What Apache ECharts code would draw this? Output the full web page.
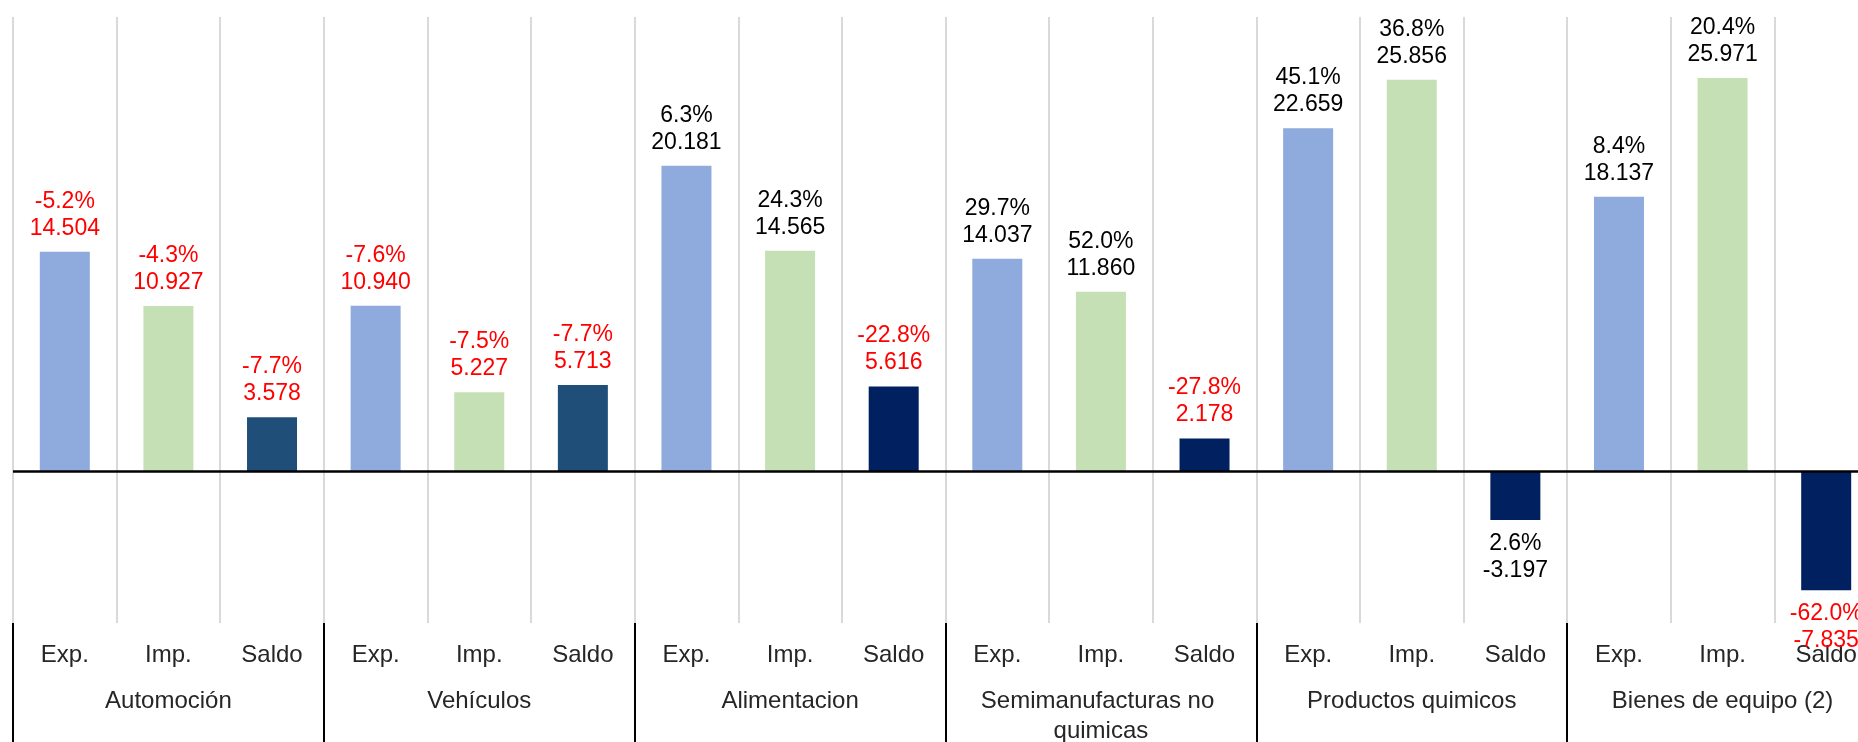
<!DOCTYPE html>
<html>
<head>
<meta charset="utf-8">
<script src="https://cdn.jsdelivr.net/npm/echarts@6/dist/echarts.min.js"></script>
<style>
  html, body { margin: 0; padding: 0; background: #fff; }
  #chart { width: 1858px; height: 742px; }
</style>
</head>
<body>
<div id="chart"></div>
<script>
// categories
var groups = ['Automoción', 'Vehículos', 'Alimentacion', 'Semimanufacturas no quimicas', 'Productos quimicos', 'Bienes de equipo (2)'];
var kinds = ['Exp.', 'Imp.', 'Saldo'];

// values (thousand million)
var expVals = [14.504, 10.940, 20.181, 14.037, 22.659, 18.137];
var impVals = [10.927, 5.227, 14.565, 11.860, 25.856, 25.971];
var saldoVals = [3.578, 5.713, 5.616, 2.178, -3.197, -7.835];

// year-on-year change (%)
var expPct = [-5.2, -7.6, 6.3, 29.7, 45.1, 8.4];
var impPct = [-4.3, -7.5, 24.3, 52.0, 36.8, 20.4];
var saldoPct = [-7.7, -7.7, -22.8, -27.8, 2.6, -62.0];

var expColor = '#8faadc';
var impColor = '#c5e0b4';
var saldoColors = ['#1f4e79', '#1f4e79', '#002060', '#002060', '#002060', '#002060'];

// flatten groups into one category axis
var cats = [], vals = [], pcts = [], colors = [];
for (var g = 0; g < groups.length; g++) {
    cats.push(kinds[0], kinds[1], kinds[2]);
    vals.push(expVals[g], impVals[g], saldoVals[g]);
    pcts.push(expPct[g], impPct[g], saldoPct[g]);
    colors.push(expColor, impColor, saldoColors[g]);
}

var barData = vals.map(function (v, i) {
    return {
        value: v,
        itemStyle: { color: colors[i] },
        label: {
            position: v < 0 ? 'bottom' : 'top',
            color: pcts[i] < 0 ? '#ff0000' : '#000000'
        }
    };
});

var dom = document.getElementById('chart');
var myChart = echarts.init(dom, null, { renderer: 'canvas' });

var option = {
    animation: false,
    backgroundColor: '#ffffff',
    textStyle: { fontFamily: 'Liberation Sans' },
    grid: {
        left: 13,
        top: 17,
        bottom: 119,
        width: 1865,
        containLabel: false,
        outerBoundsMode: 'none'
    },
    xAxis: [
        {
            type: 'category',
            data: cats,
            position: 'bottom',
            axisLine: { show: false, onZero: false },
            axisTick: { show: false },
            axisLabel: {
                interval: 0,
                margin: 20,
                fontSize: 24,
                color: '#262626',
                fontFamily: 'Liberation Sans'
            },
            splitLine: {
                show: true,
                interval: 0,
                lineStyle: { color: '#d9d9d9', width: 2 }
            }
        },
        {
            type: 'category',
            data: groups,
            position: 'bottom',
            axisLine: { show: false, onZero: false },
            axisTick: {
                show: true,
                interval: 0,
                length: 122,
                lineStyle: { color: '#000', width: 2 }
            },
            axisLabel: {
                interval: 0,
                margin: 63,
                fontSize: 24,
                lineHeight: 30,
                width: 290,
                overflow: 'break',
                color: '#262626',
                fontFamily: 'Liberation Sans'
            },
            splitLine: { show: false }
        }
    ],
    yAxis: {
        type: 'value',
        min: -10,
        max: 30,
        show: false,
        splitLine: { show: false }
    },
    series: [
        {
            type: 'bar',
            xAxisIndex: 0,
            barWidth: 50,
            data: barData,
            label: {
                show: true,
                distance: 10,
                fontSize: 23,
                lineHeight: 27,
                fontFamily: 'Liberation Sans',
                formatter: function (p) {
                    return pcts[p.dataIndex].toFixed(1) + '%\n' + vals[p.dataIndex].toFixed(3);
                }
            },
            markLine: {
                silent: true,
                symbol: 'none',
                label: { show: false },
                lineStyle: { color: '#000', width: 2.5, type: 'solid' },
                data: [{ yAxis: 0 }]
            }
        }
    ]
};

if (option && typeof option === "object") {
    myChart.setOption(option, true);
}
</script>
</body>
</html>
